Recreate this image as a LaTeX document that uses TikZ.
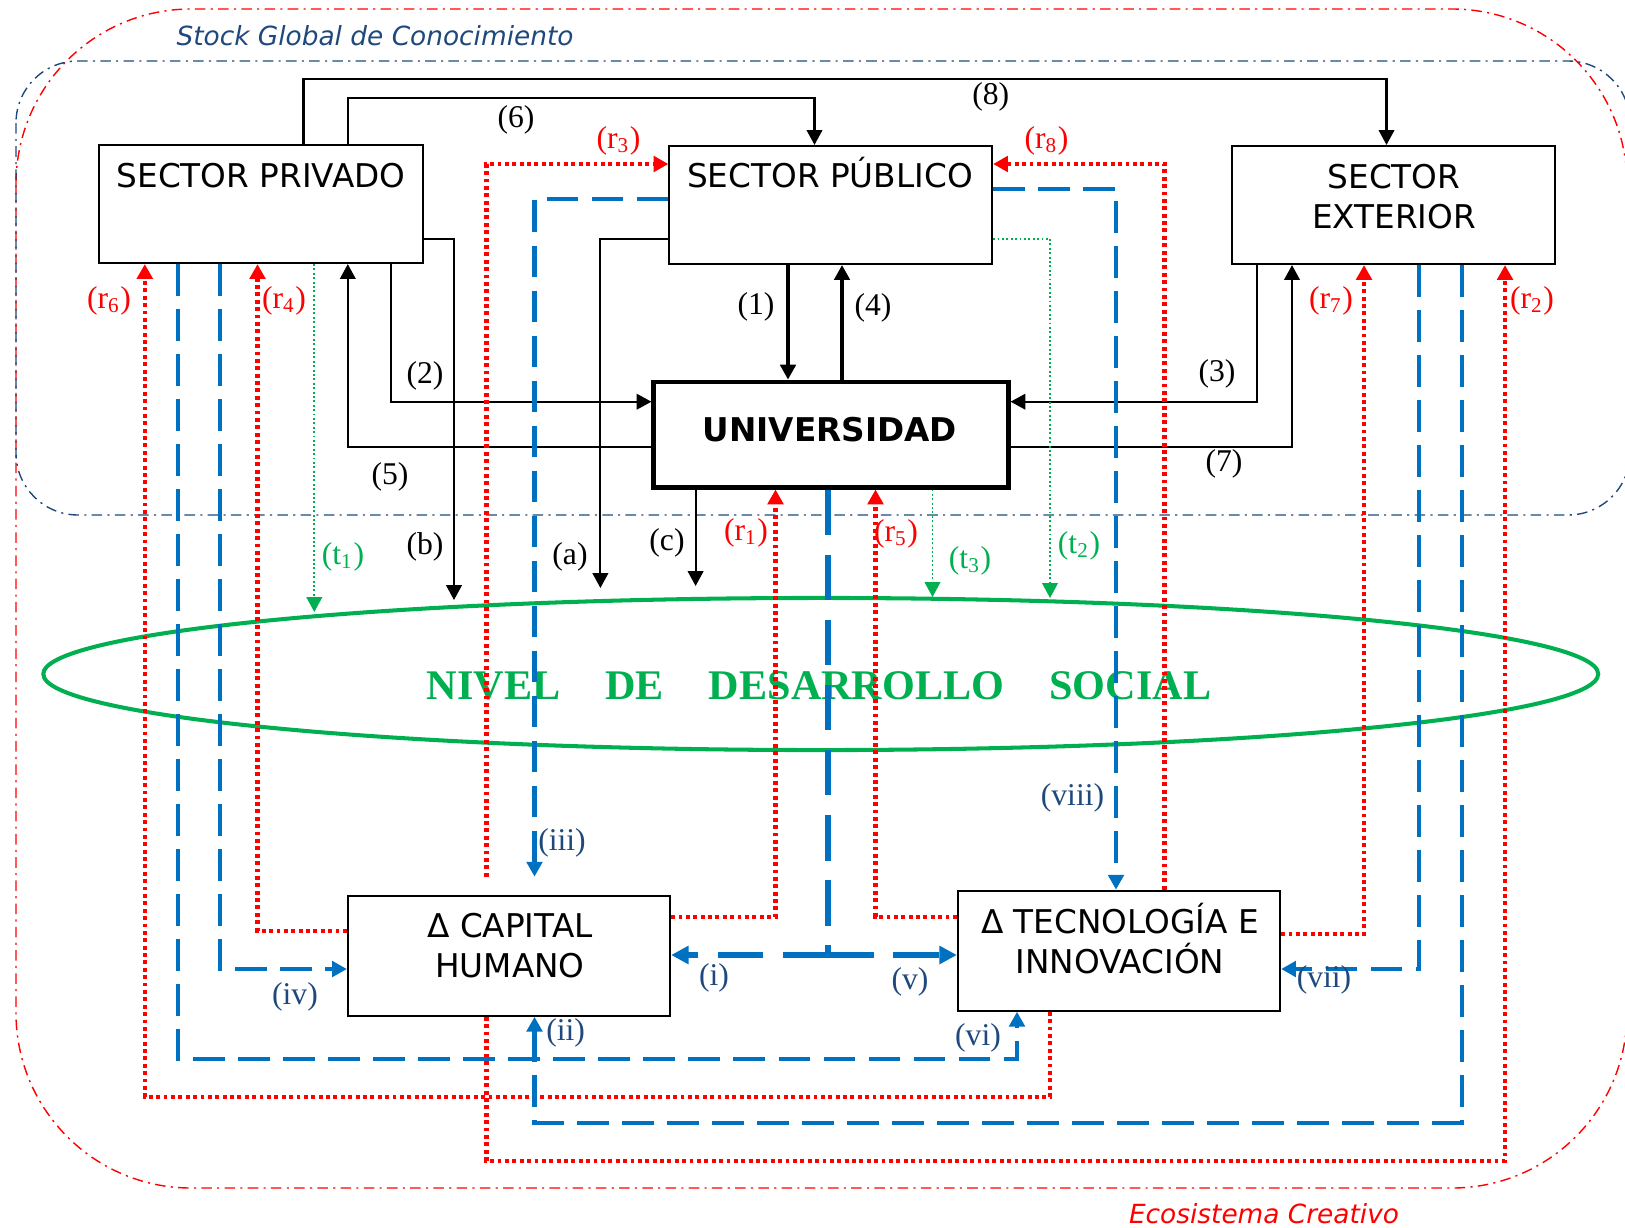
\documentclass[tikz,border=0pt]{standalone}
\usepackage{fontspec}
\setmainfont{Liberation Serif}
\setsansfont{DejaVu Sans}
\usetikzlibrary{arrows.meta}
\definecolor{flowblue}{RGB}{0,112,192}
\definecolor{inkblue}{RGB}{31,73,125}
\definecolor{retred}{RGB}{255,0,0}
\definecolor{socgreen}{RGB}{0,176,80}
\begin{document}
\begin{tikzpicture}[x=0.01cm,y=-0.01cm,every node/.style={inner sep=0pt},
  tip/.style={-{Triangle[length=4.2pt,width=4.4pt]}},
  sector/.style={draw,line width=0.6pt,fill=white,minimum width=3.23cm,minimum height=1.18cm},
  boxtext/.style={font=\sffamily\fontsize{9.3}{11.4}\selectfont,align=center},
  flow/.style={line width=0.6pt,tip},
  ret/.style={retred,line width=1.2pt,dash pattern=on 1.1pt off 1pt,tip},
  spill/.style={flowblue,line width=1.15pt,dash pattern=on 9pt off 3.8pt,tip},
  bigspill/.style={flowblue,line width=1.7pt,dash pattern=on 13pt off 5.5pt,-{Triangle[length=5pt,width=5pt]}},
  trans/.style={socgreen,line width=0.55pt,dash pattern=on 0.55pt off 0.7pt,tip},
  num/.style={font=\fontsize{9}{10}\selectfont},
  rlab/.style={num,text=retred}, tlab/.style={num,text=socgreen}, vlab/.style={num,text=inkblue},
  realm/.style={line width=0.4pt,dash pattern=on 3pt off 1.5pt on 0.6pt off 1.5pt},
  realmtext/.style={font=\sffamily\itshape\fontsize{7.5}{9}\selectfont}]
\useasboundingbox (0,0) rectangle (1625,1227);
% ambitos
\draw[realm,retred,rounded corners=1.75cm] (16,9) rectangle (1627,1188);
\draw[realm,inkblue,rounded corners=0.62cm] (16,61) rectangle (1630,515);
\node[realmtext,text=inkblue] (stock) at (375,36) {Stock Global de Conocimiento};
\node[realmtext,text=retred] (eco) at (1264,1214) {Ecosistema Creativo};
% nivel de desarrollo social
\draw[socgreen,line width=1.15pt] (820.75,674) ellipse [x radius=7.77cm,y radius=0.76cm];
\node[font=\bfseries\fontsize{12}{14}\selectfont,text=socgreen] (nds) at (819,686) {NIVEL\hspace{0.45cm}DE\hspace{0.45cm}DESARROLLO\hspace{0.45cm}SOCIAL};
\coordinate (be) at (454,600); \coordinate (ae) at (600.4,588); \coordinate (ce) at (695.6,586);
\coordinate (t1e) at (314.3,612); \coordinate (t3e) at (932.5,597); \coordinate (t2e) at (1050,598);
% agentes
\node[sector] (priv) at (261,204) {}; \node[boxtext] (privt) at (261,176) {SECTOR PRIVADO};
\node[sector,minimum width=3.225cm] (pub) at (830.75,205) {}; \node[boxtext] (pubt) at (830,173) {SECTOR PÚBLICO};
\node[sector] (ext) at (1393.5,205) {}; \node[boxtext] (extt) at (1394,197) {SECTOR\\EXTERIOR};
\node[sector,line width=1.4pt,minimum width=3.54cm,minimum height=1.05cm] (uni) at (831,434.5) {};
\node[boxtext,font=\sffamily\bfseries\fontsize{9.3}{11.4}\selectfont] (unit) at (830,430) {UNIVERSIDAD};
\node[sector,minimum width=3.22cm,minimum height=1.2cm] (cap) at (509,955.7) {}; \node[boxtext] (capt) at (510,946) {Δ CAPITAL\\HUMANO};
\node[sector,minimum width=3.22cm,minimum height=1.2cm] (tec) at (1119,950.7) {}; \node[boxtext] (tect) at (1120,938.5) {Δ TECNOLOGÍA E\\INNOVACIÓN};
% flujos (1)-(8), (a)-(c)
\draw[flow] (303.5,0 |- priv.north) -- (303.5,79) -| (1386.5,0 |- ext.north);
\draw[flow] (347.8,0 |- priv.north) -- (347.8,98.3) -| (814.5,0 |- pub.north);
\draw[flow] (390.7,0 |- priv.south) |- (uni.west |- 0,401.7);
\draw[flow] (uni.west |- 0,447.3) -| (347.8,0 |- priv.south);
\draw[flow] (priv.east |- 0,238.7) -| (be);
\draw[flow] (pub.west |- 0,238.7) -| (ae);
\draw[flow] (695.6,0 |- uni.south) -- (ce);
\draw[flow,line width=0.9pt] (788,0 |- pub.south) -- (788,0 |- uni.north);
\draw[flow,line width=0.9pt] (842,0 |- uni.north) -- (842,0 |- pub.south);
\draw[flow] (1256.6,0 |- ext.south) |- (uni.east |- 0,401.7);
\draw[flow] (uni.east |- 0,447.3) -| (1292,0 |- ext.south);
% retornos (r)
\draw[ret,shorten <=1.8mm] (486.4,0 |- cap.north) |- (pub.west |- 0,164);
\draw[ret] (486.4,0 |- cap.south) -- (486.4,1160.7) -| (1505,0 |- ext.south);
\draw[ret] (cap.east |- 0,916.7) -| (775.5,0 |- uni.south);
\draw[ret] (cap.west |- 0,930.7) -| (257.5,0 |- priv.south);
\draw[ret] (1050,0 |- tec.south) -- (1050,1096.7) -| (144.8,0 |- priv.south);
\draw[ret] (tec.west |- 0,916.7) -| (875.5,0 |- uni.south);
\draw[ret] (1164.5,0 |- tec.north) |- (pub.east |- 0,164);
\draw[ret] (tec.east |- 0,934) -| (1364,0 |- ext.south);
% derrames (i)-(viii)
\draw[spill,shorten >=1.8mm] (pub.west |- 0,199.3) -| (534.5,0 |- cap.north);
\draw[spill] (pub.east |- 0,189) -| (1116,0 |- tec.north);
\draw[spill] (219.7,0 |- priv.south) |- (cap.west |- 0,969);
\draw[spill] (178.3,0 |- priv.south) -- (178.3,1059.3) -| (1017,0 |- tec.south);
\draw[spill] (1418.6,0 |- ext.south) |- (tec.east |- 0,969);
\draw[spill] (1461.7,0 |- ext.south) -- (1461.7,1122.7) -| (534.5,0 |- cap.south);
\coordinate (fork) at (828.4,955);
\draw[bigspill,-] (828.4,0 |- uni.south) -- (fork);
\draw[bigspill] (fork) -- (cap.east |- fork);
\draw[bigspill] (fork) -- (tec.west |- fork);
% transferencias (t)
\draw[trans] (314.3,0 |- priv.south) -- (t1e);
\draw[trans] (932.5,0 |- uni.south) -- (t3e);
\draw[trans] (pub.east |- 0,238.7) -| (t2e);
% etiquetas
\node[num] (l8) at (990.7,96.5) {(8)}; \node[num] (l6) at (516,120) {(6)};
\node[num] (l2) at (425,376) {(2)}; \node[num] (l5) at (390,477) {(5)};
\node[num] (lb) at (425,547) {(b)}; \node[num] (la) at (570,557) {(a)}; \node[num] (lc) at (667,543) {(c)};
\node[num] (l1) at (756,307) {(1)}; \node[num] (l4) at (873,308) {(4)};
\node[num] (l3) at (1217,374) {(3)}; \node[num] (l7) at (1224,464) {(7)};
\node[rlab] (lr3) at (618.5,141) {(r\textsubscript{3})}; \node[rlab] (lr8) at (1046.5,141) {(r\textsubscript{8})};
\node[rlab] (lr6) at (109,301) {(r\textsubscript{6})}; \node[rlab] (lr4) at (284,301) {(r\textsubscript{4})};
\node[rlab] (lr7) at (1331,301) {(r\textsubscript{7})}; \node[rlab] (lr2) at (1532,301) {(r\textsubscript{2})};
\node[rlab] (lr1) at (746,533) {(r\textsubscript{1})}; \node[rlab] (lr5) at (896,534) {(r\textsubscript{5})};
\node[tlab] (lt1) at (343,557) {(t\textsubscript{1})}; \node[tlab] (lt3) at (970,561) {(t\textsubscript{3})};
\node[tlab] (lt2) at (1079,546) {(t\textsubscript{2})};
\node[vlab] (liii) at (562,842.5) {(iii)}; \node[vlab] (lviii) at (1072.5,797.5) {(viii)};
\node[vlab] (liv) at (295,996.7) {(iv)}; \node[vlab] (li) at (714,978) {(i)}; \node[vlab] (lv) at (910,982) {(v)};
\node[vlab] (lii) at (565.6,1033) {(ii)}; \node[vlab] (lvi) at (978,1038) {(vi)}; \node[vlab] (lvii) at (1324,980) {(vii)};
\end{tikzpicture}
\end{document}
